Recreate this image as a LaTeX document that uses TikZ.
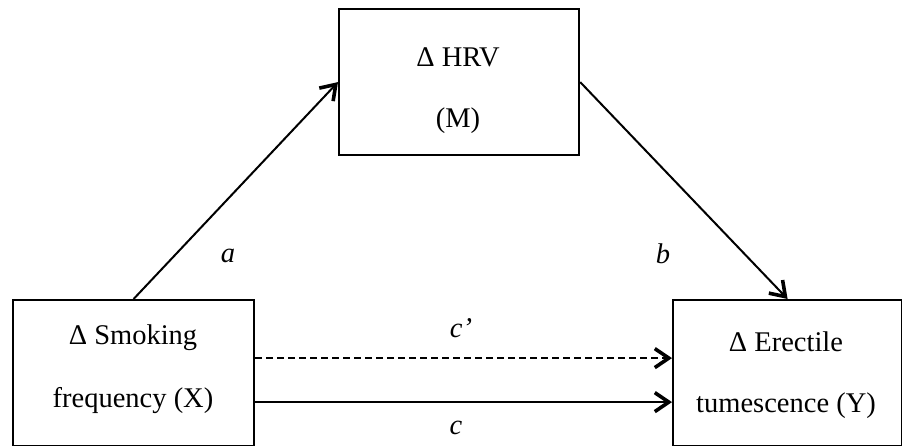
\documentclass[tikz,border=0pt]{standalone}
\usepackage{fontspec}
\setmainfont{Liberation Serif}
\usetikzlibrary{arrows.meta}
\begin{document}
\begin{tikzpicture}[x=1pt,y=-1pt,
  box/.style={draw=black,line width=2.2pt,minimum width=241pt,minimum height=146pt,inner sep=0pt,anchor=north west},
  txt/.style={font=\fontsize{28.5}{34}\selectfont,inner sep=0pt},
  lbl/.style={font=\fontsize{28.5}{34}\selectfont\itshape,inner sep=0pt},
  conn/.style={line width=2pt,-{Straight Barb[length=14pt,width=19pt,line width=3.6pt]}}]
\useasboundingbox (0,0) rectangle (902,445);
\node[box,minimum width=240pt] (M) at (338,8) {};
\node[box] (X) at (12,299) {};
\node[box,minimum width=229pt] (Y) at (672,299) {};
\node[txt] (m1) at (458,57) {Δ HRV};
\node[txt] (m2) at (458,121) {(M)};
\node[txt] (x1) at (133,338) {Δ Smoking};
\node[txt] (x2) at (133,401) {frequency (X)};
\node[txt] (y1) at (786,342) {Δ Erectile};
\node[txt] (y2) at (786,406) {tumescence (Y)};
\draw[conn] (X.north) -- (M.west);
\draw[conn] (M.east) -- (Y.north);
\draw[conn,dash pattern=on 7pt off 4pt] ([yshift=15pt]X.east) -- ([yshift=15pt]Y.west);
\draw[conn] ([yshift=-29pt]X.east) -- ([yshift=-29pt]Y.west);
\node[lbl] (la) at (228,256) {a};
\node[lbl] (lb) at (663,254) {b};
\node[lbl] (lcp) at (461,328) {c’};
\node[lbl] (lc) at (456,428) {c};
\end{tikzpicture}
\end{document}
